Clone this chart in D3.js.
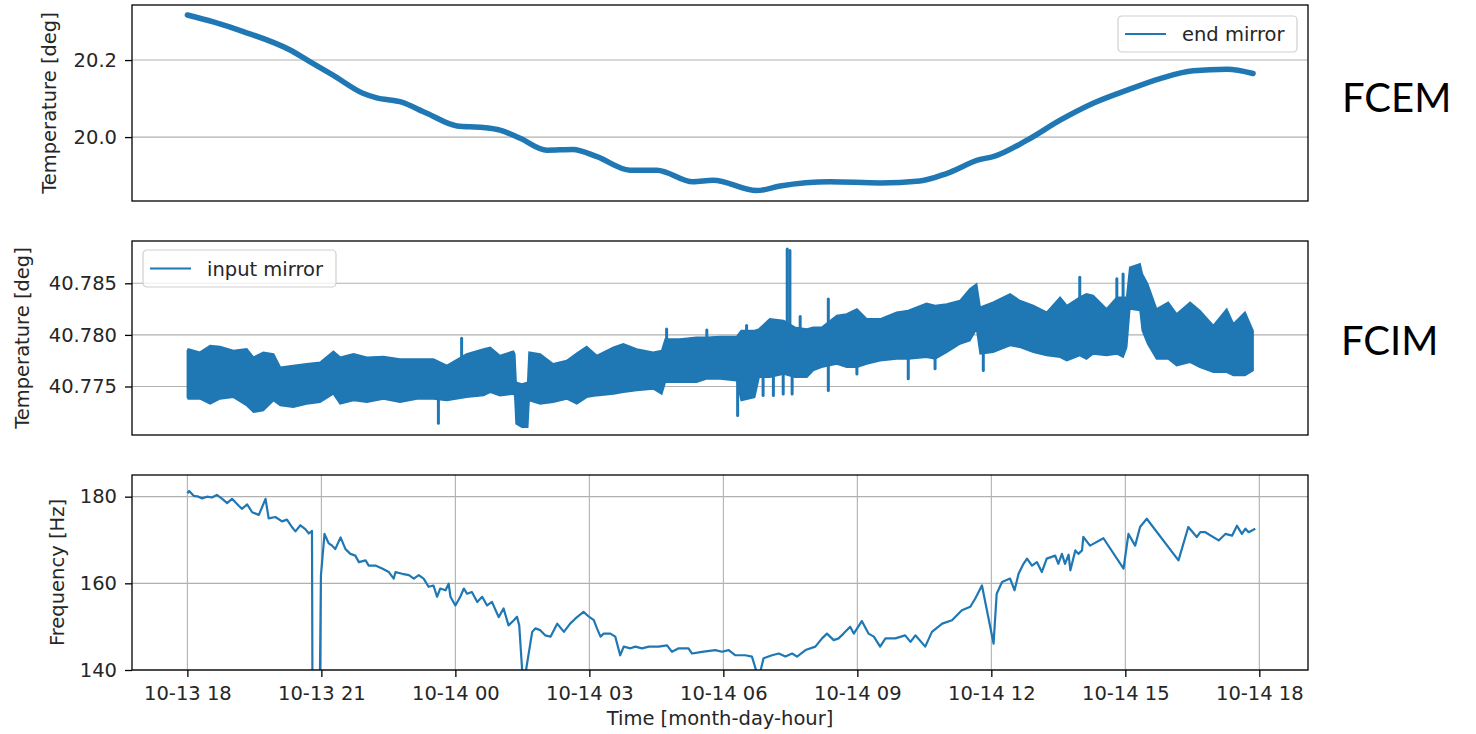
<!DOCTYPE html>
<html>
<head>
<meta charset="utf-8">
<script src="https://cdn.jsdelivr.net/npm/d3@7"></script>
<style>
  body { margin: 0; background: #fff; }
  svg text { font-family: "DejaVu Sans", sans-serif; fill: #262626; }
  .grid line { stroke: #b0b0b0; stroke-width: 1.1; }
  .axis path { display: none; }
  .axis line { stroke: #000; stroke-width: 1.3; }
  .axis text { font-size: 19.5px; font-family: "DejaVu Sans", sans-serif; fill: #262626; }
  .frame { fill: none; stroke: #000; stroke-width: 1.3; }
  .side { font-family: Lato, "Open Sans", sans-serif; font-size: 40px; fill: #000; }
</style>
</head>
<body>
<svg id="chart" width="1476" height="734"></svg>
<script>
// hours are counted from 10-13 18:00
var startTime = new Date(2023, 9, 13, 18, 0);
var xDomainHours = [-1.24, 25.09];
var xTickHours = [0, 3, 6, 9, 12, 15, 18, 21, 24];

// FCEM end mirror temperature
var emHours = [0.00, 0.58, 1.25, 2.30, 2.74, 3.26, 3.93, 4.24, 4.76, 5.36, 6.04, 6.62, 7.00, 7.45, 8.05, 8.63, 9.17, 9.91, 10.51, 11.32, 11.77, 12.75, 13.27, 14.39, 15.51, 16.40, 17.01, 17.75, 18.04, 18.80, 19.54, 20.28, 21.04, 21.78, 22.52, 23.28, 23.86];
var emTemp = [20.317, 20.299, 20.274, 20.226, 20.196, 20.161, 20.114, 20.102, 20.092, 20.062, 20.029, 20.025, 20.018, 19.997, 19.966, 19.968, 19.949, 19.914, 19.914, 19.884, 19.888, 19.861, 19.873, 19.884, 19.881, 19.886, 19.906, 19.942, 19.949, 19.992, 20.044, 20.088, 20.122, 20.152, 20.172, 20.176, 20.165];
var emDomain = [19.834, 20.343];
var emTicks = [20.0, 20.2];

// FCIM input mirror temperature (noise band: upper and lower envelope)
var imHours = [0.00, 0.02, 0.28, 0.51, 0.73, 1.03, 1.33, 1.48, 1.70, 1.93, 2.08, 2.37, 2.67, 2.97, 3.27, 3.42, 3.72, 4.02, 4.39, 4.76, 5.14, 5.51, 5.81, 6.25, 6.63, 6.78, 7.00, 7.30, 7.33, 7.36, 7.49, 7.62, 7.65, 7.90, 8.19, 8.49, 8.72, 8.94, 9.17, 9.54, 9.76, 10.06, 10.43, 10.62, 10.70, 11.03, 11.40, 11.63, 11.93, 12.30, 12.40, 12.70, 12.80, 13.04, 13.35, 13.60, 13.87, 14.01, 14.20, 14.54, 14.76, 14.99, 15.21, 15.51, 15.88, 16.14, 16.55, 16.74, 17.00, 17.30, 17.52, 17.67, 17.75, 18.04, 18.42, 18.64, 18.94, 19.24, 19.54, 19.69, 19.98, 20.13, 20.28, 20.58, 20.81, 20.95, 21.03, 21.10, 21.33, 21.38, 21.50, 21.70, 21.96, 22.15, 22.45, 22.67, 22.97, 23.27, 23.42, 23.68, 23.86];
var imHigh = [40.77848, 40.77864, 40.77832, 40.77897, 40.77887, 40.77848, 40.77864, 40.77784, 40.77832, 40.77816, 40.77687, 40.77703, 40.77719, 40.77735, 40.77842, 40.77784, 40.77816, 40.77784, 40.77790, 40.77767, 40.77767, 40.77767, 40.77703, 40.77816, 40.77864, 40.77880, 40.77800, 40.77842, 40.77816, 40.77541, 40.77525, 40.77541, 40.77832, 40.77816, 40.77719, 40.77751, 40.77822, 40.77887, 40.77800, 40.77880, 40.77913, 40.77864, 40.77832, 40.77848, 40.77961, 40.77961, 40.77977, 40.77977, 40.77984, 40.77984, 40.78042, 40.78042, 40.78058, 40.78155, 40.78139, 40.78074, 40.78058, 40.78074, 40.78074, 40.78187, 40.78203, 40.78252, 40.78155, 40.78155, 40.78220, 40.78236, 40.78307, 40.78284, 40.78300, 40.78333, 40.78446, 40.78494, 40.78268, 40.78317, 40.78397, 40.78333, 40.78284, 40.78220, 40.78365, 40.78284, 40.78365, 40.78397, 40.78381, 40.78252, 40.78365, 40.78365, 40.78365, 40.78655, 40.78688, 40.78591, 40.78494, 40.78252, 40.78317, 40.78203, 40.78317, 40.78236, 40.78090, 40.78252, 40.78107, 40.78220, 40.78042];
var imLow = [40.77396, 40.77380, 40.77380, 40.77331, 40.77380, 40.77396, 40.77315, 40.77251, 40.77267, 40.77364, 40.77315, 40.77299, 40.77331, 40.77348, 40.77428, 40.77331, 40.77364, 40.77348, 40.77380, 40.77348, 40.77380, 40.77380, 40.77364, 40.77396, 40.77412, 40.77444, 40.77412, 40.77428, 40.77412, 40.77138, 40.77105, 40.77105, 40.77364, 40.77331, 40.77348, 40.77380, 40.77331, 40.77396, 40.77412, 40.77428, 40.77444, 40.77461, 40.77477, 40.77428, 40.77541, 40.77541, 40.77541, 40.77574, 40.77574, 40.77557, 40.77364, 40.77396, 40.77590, 40.77590, 40.77622, 40.77590, 40.77590, 40.77654, 40.77687, 40.77719, 40.77687, 40.77687, 40.77719, 40.77751, 40.77767, 40.77767, 40.77784, 40.77767, 40.77832, 40.77913, 40.77945, 40.78058, 40.77816, 40.77832, 40.77897, 40.77880, 40.77832, 40.77800, 40.77784, 40.77751, 40.77800, 40.77767, 40.77816, 40.77800, 40.77816, 40.77784, 40.77880, 40.78252, 40.78236, 40.78042, 40.77913, 40.77767, 40.77767, 40.77703, 40.77735, 40.77687, 40.77638, 40.77638, 40.77606, 40.77606, 40.77654];
// short spikes sticking out of the band
var imSpikeHours = [5.62, 6.14, 10.73, 11.63, 12.32, 12.52, 12.89, 13.12, 13.34, 13.43, 13.49, 13.54, 13.72, 14.35, 14.99, 16.14, 16.74, 17.82, 19.98, 20.81, 20.95];
var imSpikeLow = [40.77144, 40.77719, 40.77945, 40.77945, 40.77218, 40.77977, 40.77412, 40.77412, 40.77428, 40.78042, 40.77945, 40.77428, 40.77945, 40.77461, 40.77622, 40.77574, 40.77671, 40.77654, 40.78203, 40.78203, 40.78203];
var imSpikeHigh = [40.77380, 40.77968, 40.78058, 40.78048, 40.77557, 40.78090, 40.77590, 40.77590, 40.77622, 40.78833, 40.78817, 40.77687, 40.78178, 40.78349, 40.77687, 40.77767, 40.77767, 40.77816, 40.78559, 40.78543, 40.78591];
var imDomain = [40.7703, 40.7891];
var imTicks = [40.775, 40.780, 40.785];

// frequency (values below 140 are cut off by the axis)
var fqHours = [0.00, 0.04, 0.14, 0.25, 0.33, 0.44, 0.55, 0.66, 0.78, 0.89, 1.00, 1.15, 1.22, 1.34, 1.45, 1.60, 1.75, 1.82, 1.97, 2.12, 2.23, 2.34, 2.42, 2.53, 2.64, 2.72, 2.79, 2.81, 2.93, 2.99, 3.07, 3.16, 3.24, 3.31, 3.43, 3.54, 3.65, 3.76, 3.84, 3.99, 4.06, 4.21, 4.36, 4.51, 4.62, 4.66, 4.81, 4.96, 5.07, 5.18, 5.29, 5.40, 5.51, 5.59, 5.66, 5.78, 5.85, 5.89, 6.00, 6.11, 6.19, 6.26, 6.37, 6.49, 6.60, 6.71, 6.82, 6.97, 7.08, 7.19, 7.31, 7.38, 7.43, 7.52, 7.72, 7.79, 7.90, 8.01, 8.13, 8.28, 8.43, 8.57, 8.69, 8.87, 8.99, 9.10, 9.17, 9.25, 9.32, 9.47, 9.58, 9.69, 9.77, 9.92, 10.03, 10.18, 10.33, 10.55, 10.74, 10.85, 11.00, 11.22, 11.30, 11.52, 11.82, 11.97, 12.12, 12.27, 12.49, 12.64, 12.79, 12.90, 13.09, 13.24, 13.39, 13.54, 13.65, 13.84, 14.06, 14.21, 14.32, 14.47, 14.58, 14.69, 14.84, 14.92, 15.10, 15.25, 15.37, 15.51, 15.63, 15.85, 16.07, 16.19, 16.30, 16.52, 16.67, 16.90, 17.12, 17.34, 17.53, 17.64, 17.79, 18.05, 18.12, 18.24, 18.42, 18.52, 18.61, 18.72, 18.80, 18.91, 19.02, 19.13, 19.24, 19.43, 19.50, 19.58, 19.65, 19.73, 19.77, 19.88, 19.95, 20.03, 20.06, 20.21, 20.51, 20.96, 21.07, 21.22, 21.33, 21.48, 22.19, 22.41, 22.60, 22.68, 22.79, 23.09, 23.24, 23.39, 23.50, 23.61, 23.69, 23.76, 23.91];
var fqValues = [180.8, 181.3, 180.2, 180.0, 179.6, 180.0, 179.8, 180.4, 179.5, 178.5, 179.5, 177.9, 177.2, 178.2, 176.4, 175.8, 179.5, 175.0, 175.3, 174.3, 174.7, 173.0, 172.0, 173.4, 172.5, 171.5, 172.1, 100, 100, 161.8, 171.4, 169.3, 168.7, 167.9, 170.6, 167.9, 166.8, 166.4, 164.9, 165.3, 164.1, 164.1, 163.4, 162.6, 161.1, 162.6, 162.2, 161.9, 161.1, 161.9, 161.1, 159.2, 159.5, 156.9, 158.8, 158.4, 159.9, 156.9, 154.9, 156.9, 158.8, 157.6, 158.0, 155.7, 156.9, 154.9, 155.7, 152.2, 154.2, 150.3, 151.5, 152.3, 150.3, 136, 148.8, 149.6, 149.2, 148.0, 147.7, 150.7, 148.8, 150.7, 151.9, 153.4, 152.3, 151.5, 149.6, 147.7, 148.4, 148.4, 147.7, 143.4, 145.4, 145.0, 145.4, 145.0, 145.4, 145.4, 145.7, 144.2, 145.0, 145.0, 143.8, 144.2, 144.6, 144.2, 144.6, 143.4, 143.4, 143.1, 138, 142.7, 143.4, 143.8, 143.1, 143.8, 143.1, 144.6, 145.4, 147.3, 148.4, 146.9, 147.3, 148.4, 150.0, 148.4, 151.3, 148.4, 147.7, 145.4, 147.3, 147.3, 148.0, 146.5, 148.0, 145.4, 148.8, 150.7, 151.5, 153.8, 154.6, 156.5, 159.5, 146.1, 157.6, 160.3, 161.1, 158.4, 162.2, 164.5, 165.7, 164.1, 164.9, 162.6, 165.7, 166.4, 164.5, 166.8, 164.5, 166.6, 163.0, 167.6, 166.8, 167.6, 170.7, 168.7, 170.4, 163.4, 171.4, 168.7, 173.0, 174.9, 165.3, 173.0, 170.7, 171.8, 171.8, 169.9, 171.4, 171.0, 173.3, 171.4, 172.6, 171.8, 172.6];
var fqDomain = [140, 185];
var fqTicks = [140, 160, 180];

var blue = "#1f77b4";
var left = 132, right = 1308;

function hourToDate(h) {
  return new Date(startTime.getTime() + h * 3600 * 1000);
}

var svg = d3.select("#chart");

var x = d3.scaleTime()
    .domain(xDomainHours.map(hourToDate))
    .range([left, right]);

function makePanel(id, top, bottom, domain, ticks, fmt, vgrid) {
  var y = d3.scaleLinear().domain(domain).range([bottom, top]);
  var g = svg.append("g").attr("id", id);

  svg.append("clipPath").attr("id", "clip-" + id)
    .append("rect")
      .attr("x", left).attr("y", top)
      .attr("width", right - left).attr("height", bottom - top);

  var grid = g.append("g").attr("class", "grid");
  grid.selectAll(".hg")
    .data(ticks)
    .enter().append("line")
      .attr("class", "hg")
      .attr("x1", left).attr("x2", right)
      .attr("y1", function(d) { return y(d); })
      .attr("y2", function(d) { return y(d); });
  if (vgrid) {
    grid.selectAll(".vg")
      .data(xTickHours)
      .enter().append("line")
        .attr("class", "vg")
        .attr("y1", top).attr("y2", bottom)
        .attr("x1", function(d) { return x(hourToDate(d)); })
        .attr("x2", function(d) { return x(hourToDate(d)); });
  }

  g.append("g")
      .attr("class", "axis")
      .attr("transform", "translate(" + left + ",0)")
      .call(d3.axisLeft(y).tickValues(ticks).tickSize(7).tickPadding(8).tickFormat(d3.format(fmt)));

  var plot = g.append("g").attr("clip-path", "url(#clip-" + id + ")");
  return { g: g, plot: plot, y: y, top: top, bottom: bottom };
}

function frame(p) {
  p.g.append("rect")
    .attr("class", "frame")
    .attr("x", left).attr("y", p.top)
    .attr("width", right - left).attr("height", p.bottom - p.top);
}

function yLabel(p, xpos, label) {
  p.g.append("text")
    .attr("transform", "translate(" + xpos + "," + ((p.top + p.bottom) / 2) + ") rotate(-90)")
    .attr("text-anchor", "middle")
    .style("font-size", "19.5px")
    .text(label);
}

function legend(p, bx, by, bw, bh, label) {
  var lg = p.g.append("g").attr("transform", "translate(" + bx + "," + by + ")");
  lg.append("rect")
    .attr("width", bw).attr("height", bh)
    .attr("rx", 4).attr("ry", 4)
    .attr("fill", "#fff").attr("fill-opacity", 0.8)
    .attr("stroke", "#d0d0d0").attr("stroke-width", 1.2);
  lg.append("line")
    .attr("x1", 7).attr("x2", 48)
    .attr("y1", bh / 2).attr("y2", bh / 2)
    .attr("stroke", blue).attr("stroke-width", 2.2);
  lg.append("text")
    .attr("x", 64).attr("y", bh / 2 + 7)
    .style("font-size", "19.5px")
    .text(label);
}

// panel 1: end mirror
var p1 = makePanel("em", 5, 201, emDomain, emTicks, ".1f", false);
var emData = emHours.map(function(h, i) { return { t: hourToDate(h), v: emTemp[i] }; });
p1.plot.append("path")
    .datum(emData)
    .attr("fill", "none")
    .attr("stroke", blue)
    .attr("stroke-width", 5.5)
    .attr("stroke-linecap", "round")
    .attr("stroke-linejoin", "round")
    .attr("d", d3.line()
      .curve(d3.curveMonotoneX)
      .x(function(d) { return x(d.t); })
      .y(function(d) { return p1.y(d.v); }));
frame(p1);
yLabel(p1, 56, "Temperature [deg]");
legend(p1, 1118, 16, 179, 36, "end mirror");

// panel 2: input mirror
var p2 = makePanel("im", 241, 435, imDomain, imTicks, ".3f", false);
var imData = imHours.map(function(h, i) { return { t: hourToDate(h), hi: imHigh[i], lo: imLow[i] }; });
p2.plot.append("path")
    .datum(imData)
    .attr("fill", blue)
    .attr("stroke", blue)
    .attr("stroke-width", 1.6)
    .attr("stroke-linejoin", "miter")
    .attr("stroke-miterlimit", 3)
    .attr("d", d3.area()
      .x(function(d) { return x(d.t); })
      .y0(function(d) { return p2.y(d.lo); })
      .y1(function(d) { return p2.y(d.hi); }));
p2.plot.selectAll(".spike")
    .data(imSpikeHours)
    .enter().append("line")
      .attr("class", "spike")
      .attr("x1", function(d) { return x(hourToDate(d)); })
      .attr("x2", function(d) { return x(hourToDate(d)); })
      .attr("y1", function(d, i) { return p2.y(imSpikeLow[i]); })
      .attr("y2", function(d, i) { return p2.y(imSpikeHigh[i]); })
      .attr("stroke", blue)
      .attr("stroke-width", 3)
      .attr("stroke-linecap", "round");
frame(p2);
yLabel(p2, 29, "Temperature [deg]");
legend(p2, 143, 250, 193, 37, "input mirror");

// panel 3: frequency
var p3 = makePanel("fq", 475, 670, fqDomain, fqTicks, "d", true);
var fqData = fqHours.map(function(h, i) { return { t: hourToDate(h), v: fqValues[i] }; });
p3.plot.append("path")
    .datum(fqData)
    .attr("fill", "none")
    .attr("stroke", blue)
    .attr("stroke-width", 2.2)
    .attr("stroke-linejoin", "round")
    .attr("d", d3.line()
      .x(function(d) { return x(d.t); })
      .y(function(d) { return p3.y(d.v); }));
frame(p3);
yLabel(p3, 64, "Frequency [Hz]");

p3.g.append("g")
    .attr("class", "axis")
    .attr("transform", "translate(0,670)")
    .call(d3.axisBottom(x)
      .tickValues(xTickHours.map(hourToDate))
      .tickSize(7).tickPadding(9.5)
      .tickFormat(d3.timeFormat("%m-%d %H")));

svg.append("text")
    .attr("x", (left + right) / 2).attr("y", 725)
    .attr("text-anchor", "middle")
    .style("font-size", "19.5px")
    .text("Time [month-day-hour]");

svg.append("text").attr("class", "side").attr("x", 1342).attr("y", 112).text("FCEM");
svg.append("text").attr("class", "side").attr("x", 1341).attr("y", 355).text("FCIM");
</script>
</body>
</html>
